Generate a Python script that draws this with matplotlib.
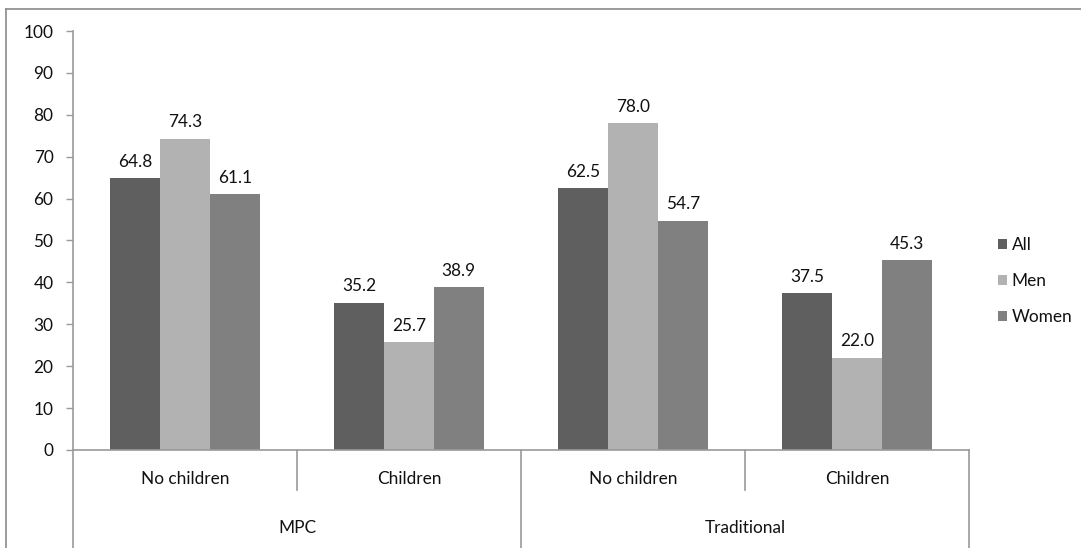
import matplotlib
matplotlib.use("Agg")
import matplotlib.pyplot as plt
from matplotlib.lines import Line2D
import matplotlib.transforms as mtransforms
import numpy as np

plt.rcParams['font.family'] = ['Lato', 'DejaVu Sans']

categories = ["No children", "Children", "No children", "Children"]
groups = ["MPC", "Traditional"]
series_names = ["All", "Men", "Women"]
all_vals = [64.8, 35.2, 62.5, 37.5]
men_vals = [74.3, 25.7, 78.0, 22.0]
women_vals = [61.1, 38.9, 54.7, 45.3]
colors = ["#5f5f5f", "#b2b2b2", "#808080"]

FS = 12.4
W, H = 1081, 548
fig = plt.figure(figsize=(W / 100, H / 100), dpi=100)
ax = fig.add_axes([73 / W, 1 - 450 / H, (969 - 73) / W, (450 - 31) / H])

x = np.arange(len(categories))
width = 0.222
series = [all_vals, men_vals, women_vals]
for i, (vals, name, c) in enumerate(zip(series, series_names, colors)):
    bars = ax.bar(x + (i - 1) * width, vals, width, color=c, label=name, zorder=2)
    for b, v in zip(bars, vals):
        ax.annotate(f"{v:.1f}", (b.get_x() + b.get_width() / 2, v),
                    xytext=(0, 6), textcoords="offset points",
                    ha="center", va="bottom", fontsize=FS, color="#111111")

ax.set_xlim(-0.5, 3.5)
ax.set_ylim(0, 100)
ax.set_yticks(np.arange(0, 101, 10))
ax.set_xticks([])
for s in ["top", "right"]:
    ax.spines[s].set_visible(False)
for s in ["left", "bottom"]:
    ax.spines[s].set_color("#9a9a9a")
    ax.spines[s].set_linewidth(1.2)
ax.tick_params(axis="y", length=5, width=1.0, color="#9a9a9a", pad=9,
               labelsize=FS, labelcolor="#111111")

# multi-level category axis
trans = mtransforms.blended_transform_factory(ax.transData, fig.transFigure)
y0 = 1 - 450 / H
y_row1 = 1 - 490 / H
y_end = 0.0
divider_color = "#9a9a9a"
for k in range(len(categories) + 1):
    xp = k - 0.5
    low = y_end if k % 2 == 0 else y_row1
    fig.add_artist(Line2D([xp, xp], [y0, low], transform=trans,
                          color=divider_color, lw=1.2))
for k, cat in enumerate(categories):
    fig.text(k, 1 - 479 / H, cat, transform=trans, ha="center", va="center",
             fontsize=FS, color="#111111")
for g, name in enumerate(groups):
    fig.text(2 * g + 0.5, 1 - 528 / H, name, transform=trans, ha="center",
             va="center", fontsize=FS, color="#111111")

leg = fig.legend(loc="center left", bbox_to_anchor=(998 / W, 1 - 281 / H),
                 frameon=False, fontsize=FS, handlelength=0.55,
                 handleheight=0.55, handletextpad=0.25, labelspacing=1.15,
                 borderpad=0, borderaxespad=0)
for t in leg.get_texts():
    t.set_color("#111111")

# chart area border (left and top visible)
fig.add_artist(Line2D([6 / W, 6 / W], [0, 1 - 9 / H], transform=fig.transFigure,
                      color="#8a8a8a", lw=1.2))
fig.add_artist(Line2D([6 / W, 1], [1 - 9 / H, 1 - 9 / H], transform=fig.transFigure,
                      color="#8a8a8a", lw=1.2))

fig.savefig("out.png", dpi=100)
